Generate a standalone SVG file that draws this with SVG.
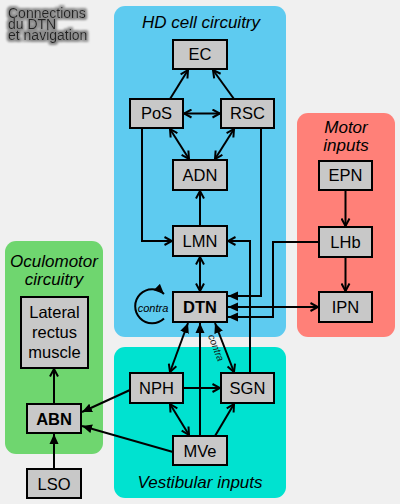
<svg xmlns="http://www.w3.org/2000/svg" width="400" height="504" viewBox="0 0 400 504">
<defs>
<style>
.node rect{fill:#c8c8c8;stroke:#000;stroke-width:2}
.node text{font-family:"Liberation Sans",Arial,sans-serif;font-size:16.5px;text-anchor:middle;fill:#000}
.bold text{font-weight:bold}
.ptitle{font-family:"Liberation Sans",Arial,sans-serif;font-size:17px;font-style:italic;text-anchor:middle;fill:#000}
.edges path{fill:none;stroke:#000;stroke-width:2}
.title text{font-family:"Liberation Sans",Arial,sans-serif;font-size:14px;fill:#222}
</style>
<marker id="v" viewBox="0 0 10 10" refX="9" refY="5" markerWidth="10" markerHeight="10" markerUnits="userSpaceOnUse" orient="auto-start-reverse">
<path d="M1.5,1 L9,5 L1.5,9" fill="none" stroke="#000" stroke-width="2"/>
</marker>
<marker id="t" viewBox="0 0 10 10" refX="10" refY="5" markerWidth="10" markerHeight="10" markerUnits="userSpaceOnUse" orient="auto-start-reverse">
<path d="M0,0.5 L10,5 L0,9.5 Z" fill="#000"/>
</marker>
<filter id="glow" x="-20%" y="-40%" width="140%" height="180%">
<feMorphology in="SourceAlpha" operator="dilate" radius="1.5" result="d"/>
<feGaussianBlur in="d" stdDeviation="1.3" result="b"/>
<feFlood flood-color="#8a8a8a"/>
<feComposite in2="b" operator="in" result="g"/>
<feMerge><feMergeNode in="g"/><feMergeNode in="SourceGraphic"/></feMerge>
</filter>
</defs>
<rect x="0" y="0" width="400" height="504" fill="#f0f0f0"/>

<g id="title" class="title" filter="url(#glow)">
<text x="8" y="17.5">Connections</text>
<text x="8" y="28.5">du DTN</text>
<text x="8" y="39.5">et navigation</text>
</g>

<g id="panels">
<g id="panel-hd"><rect x="114" y="6" width="172" height="331" rx="11" fill="#5ecbf0"/>
<text class="ptitle" x="201" y="28">HD cell circuitry</text></g>
<g id="panel-motor"><rect x="297" y="113" width="98" height="224" rx="11" fill="#ff8078"/>
<text class="ptitle" x="346" y="133">Motor</text><text class="ptitle" x="346" y="151">inputs</text></g>
<g id="panel-oculo"><rect x="5" y="241" width="98" height="213" rx="11" fill="#6fd66f"/>
<text class="ptitle" x="54" y="267">Oculomotor</text><text class="ptitle" x="54" y="285">circuitry</text></g>
<g id="panel-vest"><rect x="114" y="347" width="172" height="151" rx="11" fill="#00e2d0"/>
<text class="ptitle" x="200" y="488">Vestibular inputs</text></g>
</g>

<g id="connectors" class="edges">
<path d="M170,99 L188,70" marker-end="url(#v)"/>
<path d="M234,99 L213,70" marker-end="url(#v)"/>
<path d="M184,113.5 L220,113.5" marker-start="url(#v)" marker-end="url(#v)"/>
<path d="M170,129 L189,159" marker-start="url(#v)" marker-end="url(#v)"/>
<path d="M234,129 L215,159" marker-start="url(#v)" marker-end="url(#v)"/>
<path d="M200,226 L200,191" marker-end="url(#v)"/>
<path d="M142,128 L142,241 L172,241" marker-end="url(#v)"/>
<path d="M261,128 L261,296 L228,296" marker-end="url(#t)"/>
<path d="M250,373 L250,241 L228,241" marker-end="url(#v)"/>
<path d="M319,242 L273,242 L273,317 L228,317" marker-end="url(#t)"/>
<path d="M228,307 L318,307" marker-start="url(#t)" marker-end="url(#v)"/>
<path d="M345.5,190 L345.5,226" marker-end="url(#v)"/>
<path d="M345.5,257 L345.5,291" marker-end="url(#v)"/>
<path d="M200,257 L200,291" marker-start="url(#v)" marker-end="url(#v)"/>
<path d="M170,372 L188,323" marker-start="url(#v)" marker-end="url(#t)"/>
<path d="M200,436 L200,323" marker-end="url(#t)"/>
<path d="M215,323 L234,372" marker-start="url(#t)" marker-end="url(#v)"/>
<path d="M184,388 L220,388" marker-end="url(#v)"/>
<path d="M170,404 L189,435" marker-start="url(#v)" marker-end="url(#v)"/>
<path d="M215,436 L234,404" marker-end="url(#v)"/>
<path d="M130,390 L82,412" marker-end="url(#t)"/>
<path d="M173,452 L82,426" marker-end="url(#t)"/>
<path d="M54,404 L54,369" marker-end="url(#v)"/>
<path d="M54,469 L54,434" marker-end="url(#t)"/>
<path d="M164,318.5 A17,17 0 1 1 164,294" marker-end="url(#t)"/>
<text x="153" y="311.5" font-family="'Liberation Sans',Arial,sans-serif" font-size="11" font-style="italic" text-anchor="middle" fill="#000">contra</text>
<text transform="translate(213,349) rotate(69)" font-family="'Liberation Sans',Arial,sans-serif" font-size="10" font-style="italic" text-anchor="middle" fill="#111">contra</text>
</g>

<g id="node-EC" class="node"><rect x="173" y="40" width="54" height="29"/><text x="200" y="60">EC</text></g>
<g id="node-PoS" class="node"><rect x="130" y="99" width="53" height="29"/><text x="156.5" y="119">PoS</text></g>
<g id="node-RSC" class="node"><rect x="221" y="99" width="53" height="29"/><text x="247.5" y="119">RSC</text></g>
<g id="node-ADN" class="node"><rect x="173" y="160" width="54" height="30"/><text x="200" y="181">ADN</text></g>
<g id="node-LMN" class="node"><rect x="173" y="226" width="54" height="30"/><text x="200" y="247">LMN</text></g>
<g id="node-DTN" class="node bold"><rect x="173" y="292" width="54" height="30"/><text x="200" y="313">DTN</text></g>
<g id="node-EPN" class="node"><rect x="319" y="161" width="53" height="29"/><text x="345.5" y="181">EPN</text></g>
<g id="node-LHb" class="node"><rect x="319" y="227" width="53" height="30"/><text x="345.5" y="248">LHb</text></g>
<g id="node-IPN" class="node"><rect x="319" y="292" width="53" height="30"/><text x="345.5" y="313">IPN</text></g>
<g id="node-LRM" class="node"><rect x="21" y="297" width="67" height="71"/><text x="54.5" y="318">Lateral</text><text x="54.5" y="338">rectus</text><text x="54.5" y="358">muscle</text></g>
<g id="node-ABN" class="node bold"><rect x="27" y="404" width="54" height="29"/><text x="54" y="424.5">ABN</text></g>
<g id="node-LSO" class="node"><rect x="27" y="469" width="54" height="29"/><text x="54" y="489.5">LSO</text></g>
<g id="node-NPH" class="node"><rect x="130" y="373" width="53" height="30"/><text x="156.5" y="394">NPH</text></g>
<g id="node-SGN" class="node"><rect x="221" y="373" width="53" height="30"/><text x="247.5" y="394">SGN</text></g>
<g id="node-MVe" class="node"><rect x="173" y="436" width="54" height="29"/><text x="200" y="456.5">MVe</text></g>
</svg>
